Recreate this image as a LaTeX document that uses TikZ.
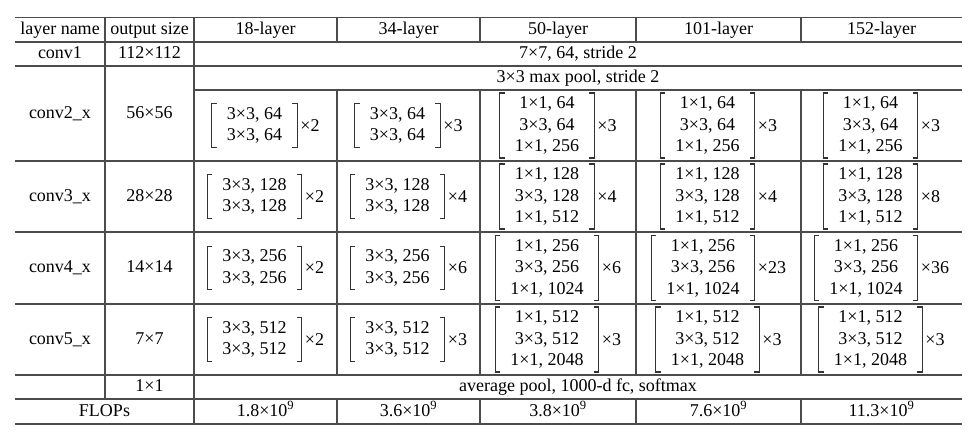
\documentclass[tikz,border=0pt]{standalone}
\usepackage{fontspec}
\setmainfont{Liberation Serif}
\usetikzlibrary{positioning}
\tikzset{
  rule/.style={line width=1.4pt, draw=black!70},
  brk/.style={line width=1.2pt, draw=black!80},
  cell/.style={inner sep=0pt, text height=12pt, text depth=3pt, text=black},
  blk/.style={align=center, inner xsep=15pt, inner ysep=0pt, text=black},
  mult/.style={inner sep=0pt, text=black},
}
% bracketed block: name, centre, lines, text, repeat
\newcommand{\resblock}[5]{%
  \node[blk, minimum height=#3*21.5pt] (#1) at (#2) {#4};
  \draw[brk] ([xshift=5pt]#1.north west) -| (#1.south west) -- ++(5pt,0);
  \draw[brk] ([xshift=-5pt]#1.north east) -| (#1.south east) -- ++(-5pt,0);
  \node[mult, right=3pt of #1] (#1m) {#5};
}

\begin{document}
\begin{tikzpicture}[x=1pt, y=-1pt, font=\fontsize{18}{21.5}\selectfont]
  \useasboundingbox (0,0) rectangle (974,447);
  % rules
  \foreach \y in {17.5,42,66,161,232,304,375,399,424}
    \draw[rule] (15,\y) -- (962,\y);
  \draw[rule] (194,90) -- (962,90);
  \draw[rule] (105,17.5) -- (105,399);
  \draw[rule] (194,17.5) -- (194,424);
  \foreach \x in {337,480,636,801} {
    \draw[rule] (\x,17.5) -- (\x,42);
    \draw[rule] (\x,90) -- (\x,375);
    \draw[rule] (\x,399) -- (\x,424);
  }
  % header
  \node[cell] (hname) at (60,30) {layer name};
  \node[cell] (hsize) at (149.5,30) {output size};
  \node[cell] (h18) at (265.5,30) {18-layer};
  \node[cell] (h34) at (408.5,30) {34-layer};
  \node[cell] (h50) at (558,30) {50-layer};
  \node[cell] (h101) at (718.5,30) {101-layer};
  \node[cell] (h152) at (881.5,30) {152-layer};
  % conv1 and pool
  \node[cell] (c1name) at (60,54) {conv1};
  \node[cell] (c1size) at (149.5,54) {112×112};
  \node[cell] (c1) at (578,54) {7×7, 64, stride 2};
  \node[cell] (pool) at (578,78) {3×3 max pool, stride 2};
  % stage names
  \node[cell] (c2name) at (60,113.5) {conv2\_x};
  \node[cell] (c2size) at (149.5,113.5) {56×56};
  \node[cell] (c3name) at (60,196.5) {conv3\_x};
  \node[cell] (c3size) at (149.5,196.5) {28×28};
  \node[cell] (c4name) at (60,268) {conv4\_x};
  \node[cell] (c4size) at (149.5,268) {14×14};
  \node[cell] (c5name) at (60,339.5) {conv5\_x};
  \node[cell] (c5size) at (149.5,339.5) {7×7};
  % conv2_x
  \resblock{b18c2}{254.5,125.5}{2}{3×3, 64\\3×3, 64}{×2}
  \resblock{b34c2}{397.5,125.5}{2}{3×3, 64\\3×3, 64}{×3}
  \resblock{b50c2}{547,125.5}{3}{1×1, 64\\3×3, 64\\1×1, 256}{×3}
  \resblock{b101c2}{707.5,125.5}{3}{1×1, 64\\3×3, 64\\1×1, 256}{×3}
  \resblock{b152c2}{870.5,125.5}{3}{1×1, 64\\3×3, 64\\1×1, 256}{×3}
  % conv3_x
  \resblock{b18c3}{254.5,196.5}{2}{3×3, 128\\3×3, 128}{×2}
  \resblock{b34c3}{397.5,196.5}{2}{3×3, 128\\3×3, 128}{×4}
  \resblock{b50c3}{547,196.5}{3}{1×1, 128\\3×3, 128\\1×1, 512}{×4}
  \resblock{b101c3}{707.5,196.5}{3}{1×1, 128\\3×3, 128\\1×1, 512}{×4}
  \resblock{b152c3}{870.5,196.5}{3}{1×1, 128\\3×3, 128\\1×1, 512}{×8}
  % conv4_x
  \resblock{b18c4}{254.5,268}{2}{3×3, 256\\3×3, 256}{×2}
  \resblock{b34c4}{397.5,268}{2}{3×3, 256\\3×3, 256}{×6}
  \resblock{b50c4}{547,268}{3}{1×1, 256\\3×3, 256\\1×1, 1024}{×6}
  \resblock{b101c4}{703,268}{3}{1×1, 256\\3×3, 256\\1×1, 1024}{×23}
  \resblock{b152c4}{866,268}{3}{1×1, 256\\3×3, 256\\1×1, 1024}{×36}
  % conv5_x
  \resblock{b18c5}{254.5,339.5}{2}{3×3, 512\\3×3, 512}{×2}
  \resblock{b34c5}{397.5,339.5}{2}{3×3, 512\\3×3, 512}{×3}
  \resblock{b50c5}{547,339.5}{3}{1×1, 512\\3×3, 512\\1×1, 2048}{×3}
  \resblock{b101c5}{707.5,339.5}{3}{1×1, 512\\3×3, 512\\1×1, 2048}{×3}
  \resblock{b152c5}{870.5,339.5}{3}{1×1, 512\\3×3, 512\\1×1, 2048}{×3}
  % head and cost
  \node[cell] (fcsize) at (149.5,387) {1×1};
  \node[cell] (fc) at (578,387) {average pool, 1000-d fc, softmax};
  \node[cell] (flops) at (104.5,411.5) {FLOPs};
  \node[cell] (f18) at (265.5,411.5) {1.8×10\textsuperscript{9}};
  \node[cell] (f34) at (408.5,411.5) {3.6×10\textsuperscript{9}};
  \node[cell] (f50) at (558,411.5) {3.8×10\textsuperscript{9}};
  \node[cell] (f101) at (718.5,411.5) {7.6×10\textsuperscript{9}};
  \node[cell] (f152) at (881.5,411.5) {11.3×10\textsuperscript{9}};
\end{tikzpicture}
\end{document}
